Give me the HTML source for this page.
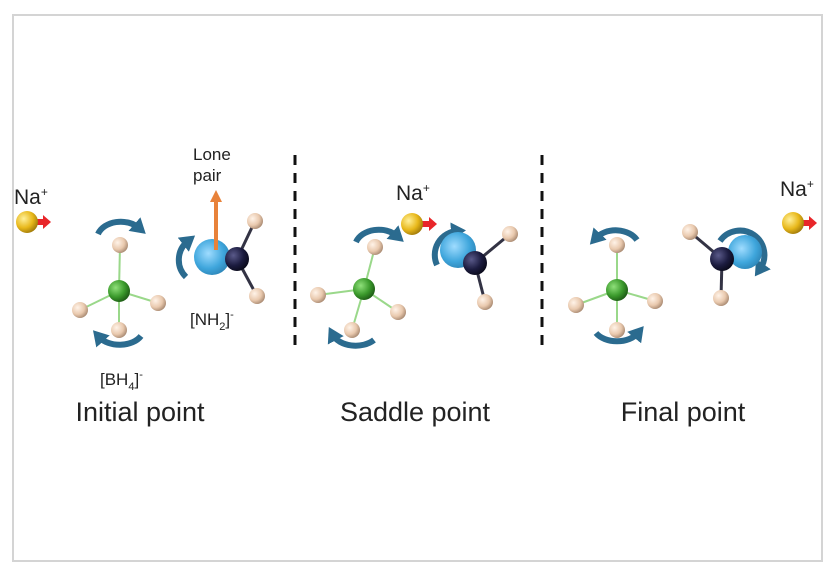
<!DOCTYPE html>
<html><head><meta charset="utf-8"><style>
html,body{margin:0;padding:0;background:#fff;width:836px;height:576px;overflow:hidden}
svg{display:block}
text{font-family:"Liberation Sans",Arial,sans-serif;fill:#222}
</style></head><body>
<svg width="836" height="576" viewBox="0 0 836 576">
<defs>
<radialGradient id="h" cx="35%" cy="35%" r="70%"><stop offset="0" stop-color="#fff3e8"/><stop offset="0.6" stop-color="#e9c9ae"/><stop offset="1" stop-color="#a98a72"/></radialGradient>
<radialGradient id="g" cx="35%" cy="35%" r="70%"><stop offset="0" stop-color="#8fe07a"/><stop offset="0.6" stop-color="#3b9a2c"/><stop offset="1" stop-color="#1d5a15"/></radialGradient>
<radialGradient id="n" cx="35%" cy="35%" r="70%"><stop offset="0" stop-color="#5a5a8a"/><stop offset="0.6" stop-color="#1c1c40"/><stop offset="1" stop-color="#0a0a1a"/></radialGradient>
<radialGradient id="b" cx="40%" cy="40%" r="70%"><stop offset="0" stop-color="#9fdcff"/><stop offset="0.6" stop-color="#3fa6dc"/><stop offset="1" stop-color="#2a7fb0"/></radialGradient>
<radialGradient id="y" cx="35%" cy="35%" r="70%"><stop offset="0" stop-color="#fff09a"/><stop offset="0.6" stop-color="#e8b81a"/><stop offset="1" stop-color="#a07a0a"/></radialGradient>
<marker id="ar" markerWidth="3" markerHeight="3" refX="1" refY="1.5" orient="auto" markerUnits="strokeWidth"><path d="M0,0 L2.5,1.5 L0,3z" fill="#2b6b8f"/></marker>
</defs>
<rect x="13" y="15" width="809" height="546" fill="none" stroke="#d4d4d4" stroke-width="2"/>
<g stroke="#111" stroke-width="3" stroke-dasharray="10,8"><line x1="295" y1="155" x2="295" y2="345"/><line x1="542" y1="155" x2="542" y2="345"/></g>

<g fill="#e8262a">
<rect x="36" y="219" width="8" height="6"/><path d="M43,215 L51,222 L43,229z"/>
<rect x="422" y="221" width="8" height="6"/><path d="M429,217 L437,224 L429,231z"/>
<rect x="802" y="220" width="8" height="6"/><path d="M809,216 L817,223 L809,230z"/>
</g>
<circle cx="27" cy="222" r="11" fill="url(#y)"/>
<circle cx="412" cy="224" r="11" fill="url(#y)"/>
<circle cx="793" cy="223" r="11" fill="url(#y)"/>
<text x="14" y="204" font-size="21">Na<tspan font-size="12" dy="-8">+</tspan></text>
<text x="396" y="200" font-size="21">Na<tspan font-size="12" dy="-8">+</tspan></text>
<text x="780" y="196" font-size="21">Na<tspan font-size="12" dy="-8">+</tspan></text>

<g stroke-width="2">
<g stroke="#9ad88a"><line x1="119" y1="291" x2="120" y2="245"/><line x1="119" y1="291" x2="80" y2="310"/><line x1="119" y1="291" x2="158" y2="303"/><line x1="119" y1="291" x2="119" y2="330"/>
<line x1="364" y1="289" x2="375" y2="247"/><line x1="364" y1="289" x2="318" y2="295"/><line x1="364" y1="289" x2="398" y2="312"/><line x1="364" y1="289" x2="352" y2="330"/>
<line x1="617" y1="290" x2="617" y2="245"/><line x1="617" y1="290" x2="576" y2="305"/><line x1="617" y1="290" x2="655" y2="301"/><line x1="617" y1="290" x2="617" y2="330"/></g>
<g stroke="#334" stroke-width="3"><line x1="237" y1="259" x2="255" y2="221"/><line x1="237" y1="259" x2="257" y2="296"/>
<line x1="475" y1="263" x2="510" y2="234"/><line x1="475" y1="263" x2="485" y2="302"/>
<line x1="722" y1="259" x2="690" y2="232"/><line x1="722" y1="259" x2="721" y2="298"/></g>
</g>

<g fill="none" stroke="#2b6b8f" stroke-width="6" marker-end="url(#ar)">
<path d="M98,234 A24,18 0 0 1 139,228"/>
<path d="M141,336 A24,16 0 0 1 99,337"/>
<path d="M186,277 A24,24 0 0 1 188,241"/>
<path d="M356,242 A24,18 0 0 1 397,236"/>
<path d="M374,340 A24,16 0 0 1 333,335"/>
<path d="M437,265 A24,24 0 0 1 457,231"/>
<path d="M637,240 A24,18 0 0 0 596,238"/>
<path d="M596,333 A24,16 0 0 0 638,333"/>
<path d="M720,241 A24,24 0 0 1 760,269"/>
</g>

<g fill="url(#h)">
<circle cx="120" cy="245" r="8"/><circle cx="80" cy="310" r="8"/><circle cx="158" cy="303" r="8"/><circle cx="119" cy="330" r="8"/>
<circle cx="375" cy="247" r="8"/><circle cx="318" cy="295" r="8"/><circle cx="398" cy="312" r="8"/><circle cx="352" cy="330" r="8"/>
<circle cx="617" cy="245" r="8"/><circle cx="576" cy="305" r="8"/><circle cx="655" cy="301" r="8"/><circle cx="617" cy="330" r="8"/>
<circle cx="255" cy="221" r="8"/><circle cx="257" cy="296" r="8"/>
<circle cx="510" cy="234" r="8"/><circle cx="485" cy="302" r="8"/>
<circle cx="690" cy="232" r="8"/><circle cx="721" cy="298" r="8"/>
</g>
<g fill="url(#g)"><circle cx="119" cy="291" r="11"/><circle cx="364" cy="289" r="11"/><circle cx="617" cy="290" r="11"/></g>
<g fill="url(#b)"><circle cx="212" cy="257" r="18"/><circle cx="458" cy="250" r="18"/><circle cx="745" cy="252" r="17"/></g>
<g fill="url(#n)"><circle cx="237" cy="259" r="12"/><circle cx="475" cy="263" r="12"/><circle cx="722" cy="259" r="12"/></g>

<line x1="216" y1="250" x2="216" y2="200" stroke="#e8823a" stroke-width="4"/>
<path d="M210,202 L216,190 L222,202z" fill="#e8823a"/>
<text x="193" y="160" font-size="17">Lone</text>
<text x="193" y="181" font-size="17">pair</text>
<text x="190" y="325" font-size="17">[NH<tspan font-size="11" dy="5">2</tspan><tspan dy="-5">]</tspan><tspan font-size="11" dy="-7">-</tspan></text>
<text x="100" y="385" font-size="17">[BH<tspan font-size="11" dy="5">4</tspan><tspan dy="-5">]</tspan><tspan font-size="11" dy="-7">-</tspan></text>

<text x="140" y="421" font-size="27" text-anchor="middle">Initial point</text>
<text x="415" y="421" font-size="27" text-anchor="middle">Saddle point</text>
<text x="683" y="421" font-size="27" text-anchor="middle">Final point</text>
</svg>
</body></html>
